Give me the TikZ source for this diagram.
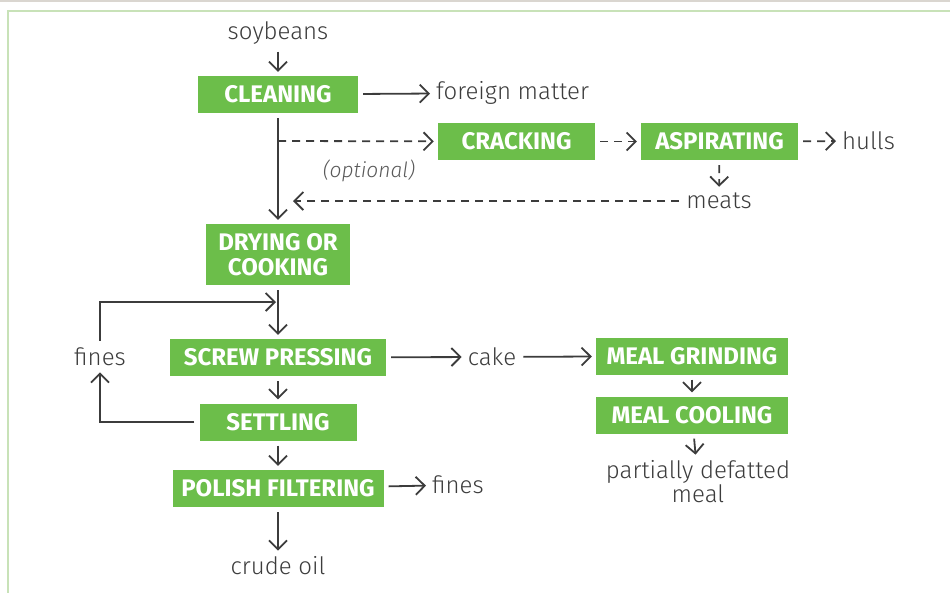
\documentclass[tikz,border=0pt]{standalone}
\usepackage{fontspec}
\setmainfont{Fira Sans}[UprightFont=* Light, ItalicFont=* Light Italic, BoldFont=* Bold]
\usetikzlibrary{arrows.meta}
\usetikzlibrary{positioning}
\definecolor{boxgreen}{HTML}{6CBE4A}
\definecolor{ink}{HTML}{3C3C3C}
\definecolor{framegreen}{HTML}{C8E2B8}
\definecolor{framegrey}{HTML}{DAD6D0}
\tikzset{proc/.style = {fill = boxgreen, text = white, font = \fontsize{24}{25}\selectfont\bfseries, minimum height = 37, inner xsep = 0, align = center}}
\tikzset{lbl/.style = {text = ink, font = \fontsize{24}{24}\selectfont, inner sep = 2, align = center}}
\tikzset{arr/.style = {draw = ink, line width = 1.8, -{Straight Barb[length = 9, width = 18]}, shorten <= 5, shorten >= 4}}
\tikzset{darr/.style = {arr, dash pattern = on 8 off 6}}

\begin{document}
\begin{tikzpicture}[x = 1pt, y = -1pt]
    \useasboundingbox (0, 0) rectangle (950, 592);
    \draw [framegrey, line width = 2] (0, 1) -- (950, 1);
    \draw [framegreen, line width = 2] (8, 11) rectangle (970, 620);

    \node [lbl] (soy) at (278, 33) {soybeans};
    \node [proc, minimum width = 160] (clean) at (278, 94.5) {CLEANING};
    \node [lbl, anchor = west] (foreign) at (434, 93) {foreign matter};
    \node [proc, minimum width = 157] (crack) at (516.5, 141.5) {CRACKING};
    \node [proc, minimum width = 157] (asp) at (719.5, 141.5) {ASPIRATING};
    \node [lbl, anchor = west] (hulls) at (840, 141) {hulls};
    \node [lbl] (meats) at (719, 201) {meats};
    \node [lbl, text = ink!85, font = \fontsize{21}{21}\selectfont\itshape] (opt) at (369, 171) {(optional)};
    \node [proc, minimum width = 144, minimum height = 61] (dry) at (278, 254.5) {DRYING OR\\COOKING};
    \node [proc, minimum width = 216] (press) at (278, 357.5) {SCREW PRESSING};
    \node [proc, minimum width = 157] (settle) at (278, 422) {SETTLING};
    \node [proc, minimum width = 211] (polish) at (278, 488.5) {POLISH FILTERING};
    \node [lbl] (finesA) at (100, 357) {fines};
    \node [lbl, anchor = west] (finesB) at (430, 485) {fines};
    \node [lbl] (oil) at (278, 566) {crude oil};
    \node [lbl] (cake) at (492, 357) {cake};
    \node [proc, minimum width = 192] (grind) at (692, 356) {MEAL GRINDING};
    \node [proc, minimum width = 192] (cool) at (692, 415) {MEAL COOLING};
    \node [lbl] (meal) at (698, 482) {partially defatted\\meal};

    \coordinate (split) at (278, 141);
    \coordinate (back) at (293, 201);
    \coordinate (merge) at (280, 302);

    \draw [arr] (soy) -- (clean);
    \draw [arr] (clean) -- (foreign);
    \draw [arr] (clean) -- (dry);
    \draw [darr, shorten <= 0] (split) -- (crack);
    \draw [darr] (crack) -- (asp);
    \draw [darr] (asp) -- (hulls);
    \draw [darr] (asp) -- (meats);
    \draw [darr, shorten >= 0] (meats) -- (back);
    \draw [arr] (dry) -- (press);
    \draw [arr] (press) -- (settle);
    \draw [arr] (settle) -- (polish);
    \draw [arr] (polish) -- (finesB);
    \draw [arr] (polish) -- (oil);
    \draw [arr] (settle.west) -| (finesA);
    \draw [arr] (finesA) |- (merge);
    \draw [arr] (press) -- (cake);
    \draw [arr] (cake) -- (grind);
    \draw [arr] (grind) -- (cool);
    \draw [arr] (cool) -- (meal);
\end{tikzpicture}
\end{document}
